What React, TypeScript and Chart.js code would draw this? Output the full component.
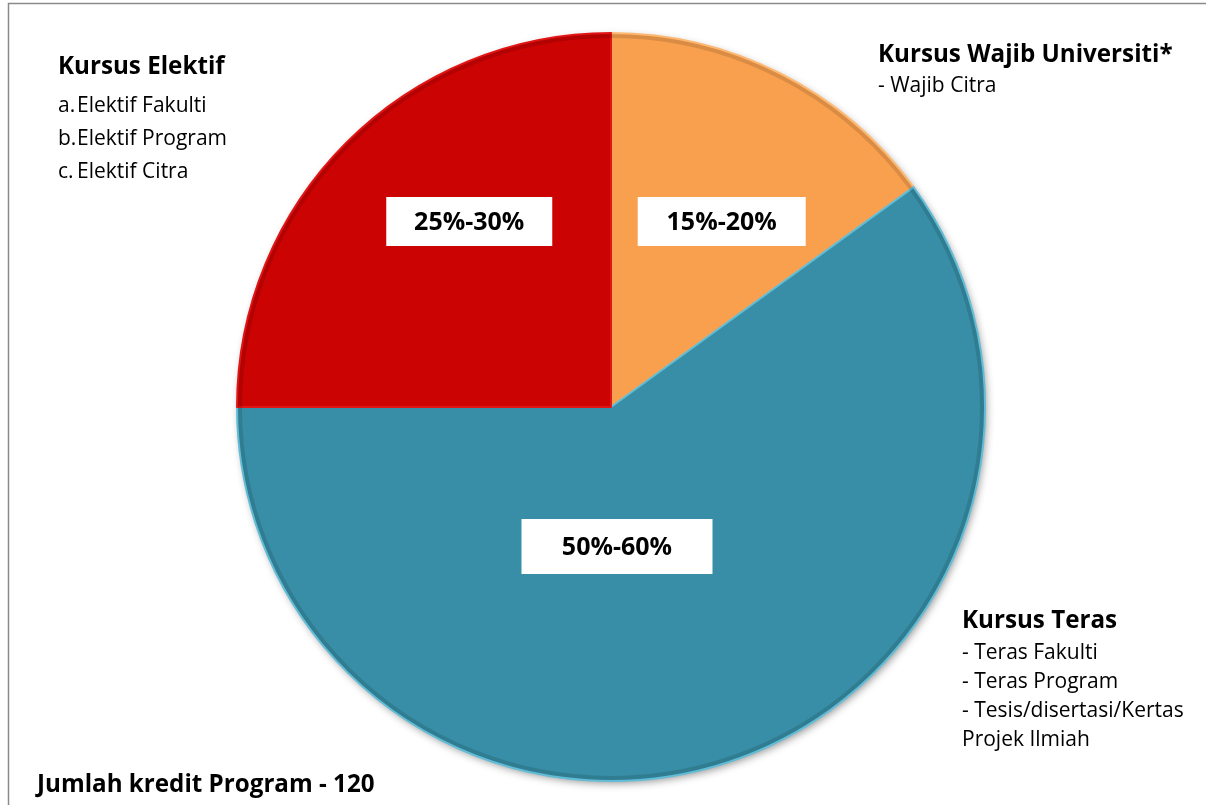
import React, { useEffect, useRef } from "react";
import { Chart, registerables } from "chart.js";
Chart.register(...registerables);

// ---- data ----
const categories = ["Kursus Wajib Universiti*", "Kursus Teras", "Kursus Elektif"];
const values = [15, 60, 25];
const rangeLabels = ["15%-20%", "50%-60%", "25%-30%"];
const wajibItems = ["- Wajib Citra"];
const terasItems = ["- Teras Fakulti", "- Teras Program", "- Tesis/disertasi/Kertas", "Projek Ilmiah"];
const elektifMarkers = ["a.", "b.", "c."];
const elektifItems = ["Elektif Fakulti", "Elektif Program", "Elektif Citra"];
const footnote = "Jumlah kredit Program - 120";

// ---- styles ----
const colors = ["#F9A04E", "#378EA6", "#CC0303"];
const edgeColors = ["#FDB872", "#62BCD6", "#E01515"];
// label box centre offsets (in units of the pie radius) and box sizes
const boxOffsets = [[0.296, -0.496], [0.016, 0.373], [-0.379, -0.496]];
const boxSizes = [[168, 49], [191, 55], [166, 49]];
const FONT = "'Open Sans', sans-serif";

const decorPlugin = {
  id: "decor",
  beforeDatasetsDraw(chart: any) {
    const ctx = chart.ctx;
    const arc = chart.getDatasetMeta(0).data[0];
    if (!arc) return;
    ctx.save();
    ctx.shadowColor = "rgba(0,0,0,0.45)";
    ctx.shadowBlur = 9;
    ctx.shadowOffsetX = 2;
    ctx.shadowOffsetY = 3;
    ctx.fillStyle = "#2f7f96";
    ctx.beginPath();
    ctx.arc(arc.x, arc.y, arc.outerRadius - 1, 0, Math.PI * 2);
    ctx.fill();
    ctx.restore();
  },
  afterDatasetsDraw(chart: any) {
    const ctx = chart.ctx;
    const meta = chart.getDatasetMeta(0);
    ctx.save();
    // subtle bevel darkening along the rim
    const a0 = meta.data[0];
    if (a0) {
      ctx.strokeStyle = "rgba(0,0,0,0.12)";
      ctx.lineWidth = 4;
      ctx.beginPath();
      ctx.arc(a0.x, a0.y, a0.outerRadius - 3, 0, Math.PI * 2);
      ctx.stroke();
    }
    // range label boxes
    meta.data.forEach((arc: any, i: number) => {
      const r = arc.outerRadius;
      const cx = arc.x + boxOffsets[i][0] * r;
      const cy = arc.y + boxOffsets[i][1] * r;
      const [w, h] = boxSizes[i];
      ctx.fillStyle = "#ffffff";
      ctx.fillRect(cx - w / 2, cy - h / 2, w, h);
      ctx.fillStyle = "#000000";
      ctx.font = `bold 25px ${FONT}`;
      ctx.textAlign = "center";
      ctx.textBaseline = "middle";
      ctx.fillText(rangeLabels[i], cx, cy + 1);
    });
    ctx.textAlign = "left";
    ctx.textBaseline = "alphabetic";
    // frame
    ctx.strokeStyle = "#8a8a8a";
    ctx.lineWidth = 1.5;
    ctx.beginPath();
    ctx.moveTo(8.5, 900);
    ctx.lineTo(8.5, 3.5);
    ctx.lineTo(1300, 3.5);
    ctx.stroke();

    const head = `bold 24.2px ${FONT}`;
    const body = `21px ${FONT}`;
    ctx.fillStyle = "#000000";
    // Elektif block
    ctx.font = head;
    ctx.fillText(categories[2], 58, 74);
    ctx.font = body;
    elektifItems.forEach((t, i) => {
      const y = 112 + i * 33;
      ctx.fillText(elektifMarkers[i], 58, y);
      ctx.fillText(t, 77, y);
    });
    // Wajib block
    ctx.font = head;
    ctx.fillText(categories[0], 878, 62);
    ctx.font = body;
    wajibItems.forEach((t, i) => ctx.fillText(t, 878, 92 + i * 29));
    // Teras block
    ctx.font = head;
    ctx.fillText(categories[1], 962, 628);
    ctx.font = body;
    terasItems.forEach((t, i) => ctx.fillText(t, 962, 659 + i * 29));
    // footnote
    ctx.font = head;
    ctx.fillText(footnote, 37, 792);
    ctx.restore();
  },
};

export default function App() {
  const ref = useRef<HTMLCanvasElement>(null);
  useEffect(() => {
    if (!ref.current) return;
    const chart = new Chart(ref.current, {
      type: "pie",
      data: {
        labels: categories,
        datasets: [
          {
            data: values,
            backgroundColor: colors,
            borderColor: edgeColors,
            borderWidth: 2,
            borderJoinStyle: "round",
            hoverOffset: 0,
          },
        ],
      },
      options: {
        animation: false,
        responsive: false,
        maintainAspectRatio: false,
        layout: { padding: { left: 236, right: 220, top: 32, bottom: 23 } },
        plugins: {
          legend: { display: false },
          tooltip: { enabled: false },
          title: { display: false },
        },
      },
      plugins: [decorPlugin],
    } as any);
    return () => chart.destroy();
  }, []);
  return (
    <div style={{ position: "absolute", left: 0, top: 0, width: 1206, height: 805, background: "#fff" }}>
      <canvas ref={ref} width={1206} height={805} style={{ display: "block" }} />
    </div>
  );
}
